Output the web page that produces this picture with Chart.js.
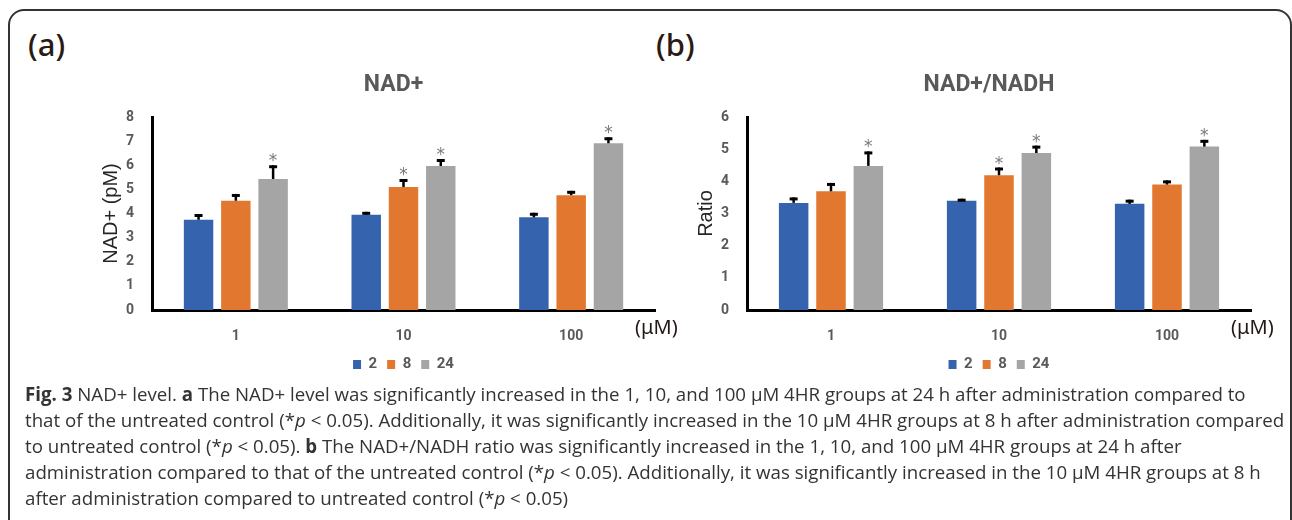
<!DOCTYPE html>
<html>
<head>
<meta charset="utf-8">
<script src="https://cdn.jsdelivr.net/npm/chart.js@4.4.1/dist/chart.umd.min.js"></script>
<style>
  body { margin: 0; width: 1292px; height: 520px; background: #fff; position: relative; overflow: hidden; }
  .frame { position: absolute; left: 8px; top: 9px; width: 1284px; height: 620px; box-sizing: border-box;
           border: 2px solid #333; border-radius: 16px; }
  .panel-label { position: absolute; top: 29px; font: 500 31px/30px "Noto Sans", sans-serif; color: #2a1a14; }
  canvas { position: absolute; top: 0; }
  .caption { position: absolute; left: 25px; top: 381px; font: 18.7px/26px "Open Sans", sans-serif; color: #333;
             white-space: nowrap; }
  .caption b { font-weight: 700; }
</style>
</head>
<body>
<div class="frame"></div>
<div class="panel-label" style="left:28px">(a)</div>
<div class="panel-label" style="left:656px">(b)</div>
<canvas id="chartA" width="690" height="382" style="left:0"></canvas>
<canvas id="chartB" width="646" height="382" style="left:646px"></canvas>
<div class="caption">
  <b>Fig. 3</b> NAD+ level. <b>a</b> The NAD+ level was significantly increased in the 1, 10, and 100 μM 4HR groups at 24 h after administration compared to<br>
  that of the untreated control (*<i>p</i> &lt; 0.05). Additionally, it was significantly increased in the 10 μM 4HR groups at 8 h after administration compared<br>
  to untreated control (*<i>p</i> &lt; 0.05). <b>b</b> The NAD+/NADH ratio was significantly increased in the 1, 10, and 100 μM 4HR groups at 24 h after<br>
  administration compared to that of the untreated control (*<i>p</i> &lt; 0.05). Additionally, it was significantly increased in the 10 μM 4HR groups at 8 h<br>
  after administration compared to untreated control (*<i>p</i> &lt; 0.05)
</div>
<script>
// categories (dose, µM) and series (hours after administration)
const doses = ['1', '10', '100'];
const hours = ['2', '8', '24'];

// NAD+ (pM), one array per hour series
const nad2h = [3.74, 3.95, 3.84];
const nad8h = [4.53, 5.10, 4.76];
const nad24h = [5.43, 5.97, 6.91];
const nadErr2h = [0.24, 0.12, 0.19];
const nadErr8h = [0.28, 0.33, 0.18];
const nadErr24h = [0.57, 0.29, 0.25];

// NAD+/NADH ratio
const ratio2h = [3.33, 3.40, 3.30];
const ratio8h = [3.69, 4.19, 3.90];
const ratio24h = [4.48, 4.88, 5.08];
const ratioErr2h = [0.17, 0.06, 0.13];
const ratioErr8h = [0.26, 0.24, 0.13];
const ratioErr24h = [0.45, 0.23, 0.21];

// * marks (p < 0.05)
const sig2h = [false, false, false];
const sig8h = [false, true, false];
const sig24h = [true, true, true];

const nadTicksMax = 8;
const ratioTicksMax = 6;

const colors = ['#3563ad', '#e2782f', '#a5a5a5'];
const tickGray = '#595959';

// draws the upper error bar and the significance star over each bar
const errorBars = {
  id: 'errorBars',
  afterDatasetsDraw(chart) {
    const ctx = chart.ctx;
    const yScale = chart.scales.y;
    chart.data.datasets.forEach((ds, i) => {
      const meta = chart.getDatasetMeta(i);
      meta.data.forEach((bar, j) => {
        const top = yScale.getPixelForValue(ds.data[j] + ds.errors[j]);
        ctx.save();
        ctx.strokeStyle = '#000';
        ctx.lineWidth = 2.5;
        ctx.beginPath();
        ctx.moveTo(bar.x, bar.y);
        ctx.lineTo(bar.x, top);
        ctx.stroke();
        ctx.lineWidth = 3;
        ctx.beginPath();
        ctx.moveTo(bar.x - 4, top + 1.5);
        ctx.lineTo(bar.x + 4, top + 1.5);
        ctx.stroke();
        if (ds.stars[j]) {
          ctx.fillStyle = '#7a7a7a';
          ctx.font = '17px "DejaVu Sans"';
          ctx.textAlign = 'center';
          ctx.textBaseline = 'alphabetic';
          ctx.fillText('*', bar.x, top + 1);
        }
        ctx.restore();
      });
    });
  }
};

// panel title above the plot and the unit after the x axis
const panelText = {
  id: 'panelText',
  afterDraw(chart, args, opts) {
    const ctx = chart.ctx;
    const area = chart.chartArea;
    ctx.save();
    ctx.fillStyle = tickGray;
    ctx.font = 'bold 23px Roboto';
    ctx.textAlign = 'center';
    ctx.textBaseline = 'middle';
    ctx.fillText(opts.title, (area.left + area.right) / 2 - 10, area.top - 32);
    ctx.fillStyle = '#231815';
    ctx.font = '20px "Noto Sans"';
    ctx.textAlign = 'left';
    ctx.fillText('(μM)', area.right - 20, area.bottom + 18);
    ctx.restore();
  }
};

function makeChart(id, series, errors, yMax, yTitle, title, padLeft, padRight) {
  const stars = [sig2h, sig8h, sig24h];
  return new Chart(document.getElementById(id), {
    type: 'bar',
    data: {
      labels: doses,
      datasets: hours.map((h, k) => ({
        label: h,
        data: series[k],
        errors: errors[k],
        stars: stars[k],
        backgroundColor: colors[k],
        categoryPercentage: 0.667,
        barPercentage: 0.79
      }))
    },
    options: {
      responsive: false,
      animation: false,
      layout: { padding: { left: padLeft, right: padRight, top: 117, bottom: 0 } },
      scales: {
        x: {
          grid: { display: false },
          border: { color: '#000', width: 3 },
          ticks: { color: tickGray, font: { family: 'Roboto', weight: 'bold', size: 14 }, padding: 10 },
          afterFit: s => { s.height = 37; }
        },
        y: {
          min: 0,
          max: yMax,
          grid: { display: false },
          border: { color: '#000', width: 3 },
          ticks: { stepSize: 1, color: tickGray, font: { family: 'Roboto', weight: 'bold', size: 14 }, padding: 10 },
          title: { display: true, text: yTitle, color: '#262626',
                   font: { family: 'Liberation Sans', size: 20 }, padding: { top: 11, bottom: 0 } },
          afterFit: s => { s.width = 64; }
        }
      },
      plugins: {
        legend: {
          position: 'bottom',
          fullSize: false,
          labels: { boxWidth: 8, boxHeight: 9, padding: 10, color: tickGray,
                    font: { family: 'Roboto', weight: 'bold', size: 15 } }
        },
        tooltip: { enabled: false },
        panelText: { title: title }
      }
    },
    plugins: [errorBars, panelText]
  });
}

makeChart('chartA', [nad2h, nad8h, nad24h], [nadErr2h, nadErr8h, nadErr24h],
  nadTicksMax, 'NAD+ (pM)', 'NAD+', 88, 35);
makeChart('chartB', [ratio2h, ratio8h, ratio24h], [ratioErr2h, ratioErr8h, ratioErr24h],
  ratioTicksMax, 'Ratio', 'NAD+/NADH', 37, 41);
</script>
</body>
</html>
